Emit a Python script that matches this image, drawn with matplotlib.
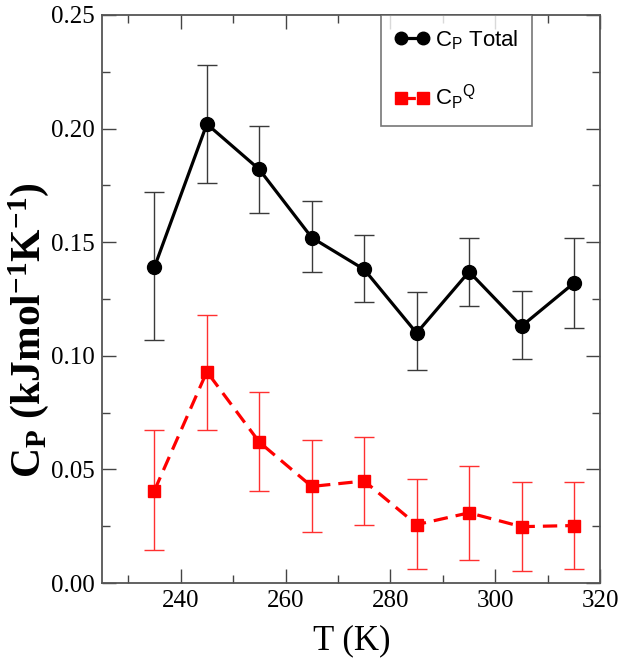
import matplotlib
matplotlib.use("Agg")
import matplotlib.pyplot as plt
from matplotlib.ticker import MultipleLocator, FormatStrFormatter

# === Data ===
temps = [235, 245, 255, 265, 275, 285, 295, 305, 315]

cp_total = [0.139, 0.202, 0.182, 0.152, 0.138, 0.110, 0.137, 0.113, 0.132]
cp_total_hi = [0.172, 0.228, 0.201, 0.168, 0.153, 0.128, 0.152, 0.1285, 0.152]
cp_total_lo = [0.107, 0.176, 0.163, 0.137, 0.1235, 0.0937, 0.1218, 0.0984, 0.1124]

cp_q = [0.0407, 0.093, 0.062, 0.0425, 0.0449, 0.0257, 0.0309, 0.0248, 0.0253]
cp_q_hi = [0.0675, 0.118, 0.084, 0.063, 0.0644, 0.0457, 0.0513, 0.0445, 0.0445]
cp_q_lo = [0.0144, 0.0675, 0.0407, 0.0226, 0.0257, 0.0062, 0.0103, 0.0053, 0.0063]

x_ticks = [240, 260, 280, 300, 320]

plt.rcParams["font.family"] = ["Liberation Serif", "DejaVu Serif"]
plt.rcParams["mathtext.default"] = "regular"

fig = plt.figure(figsize=(6.2, 6.66), dpi=100)
ax = fig.add_axes([0.1645, 0.1246, 0.8035, 0.853])

# error bars as (distance below, distance above)
err_total = [[c - l for c, l in zip(cp_total, cp_total_lo)],
             [h - c for c, h in zip(cp_total, cp_total_hi)]]
err_q = [[c - l for c, l in zip(cp_q, cp_q_lo)],
         [h - c for c, h in zip(cp_q, cp_q_hi)]]

ax.errorbar(temps, cp_total, yerr=err_total, fmt="none", ecolor="#3a3a3a",
            elinewidth=1.0, capsize=7.5, capthick=1.0, zorder=2)
ax.errorbar(temps, cp_q, yerr=err_q, fmt="none", ecolor="#ff3030",
            elinewidth=1.0, capsize=7.5, capthick=1.0, zorder=2)

ax.plot(temps, cp_total, color="black", lw=2.3, marker="o", ms=10,
        label=r"C$_P$ Total", zorder=3)
ax.plot(temps, cp_q, color="red", lw=2.3, ls=(0, (4.5, 2.5)), marker="s",
        ms=9, label=r"C$_P$$^Q$", zorder=3)

ax.set_xlim(225, 320)
ax.set_ylim(0, 0.25)
ax.set_xticks(x_ticks)
ax.xaxis.set_minor_locator(MultipleLocator(10))
ax.yaxis.set_major_locator(MultipleLocator(0.05))
ax.yaxis.set_minor_locator(MultipleLocator(0.025))
ax.yaxis.set_major_formatter(FormatStrFormatter("%.2f"))

ax.tick_params(which="both", direction="in", top=True, right=True,
               color="#444444", width=1.0)
ax.tick_params(which="major", length=10, labelsize=18, pad=5)
ax.tick_params(which="minor", length=6)
for sp in ax.spines.values():
    sp.set_color("#555555")
    sp.set_linewidth(1.3)

leg = ax.legend(loc="upper left", bbox_to_anchor=(0.56, 1.0),
                borderaxespad=0, fancybox=False, numpoints=2, markerscale=0.9,
                handlelength=1.6, handletextpad=0.25, labelspacing=1.4,
                borderpad=0.6, prop={"family": "Liberation Sans", "size": 16})
leg.get_frame().set_edgecolor("#555555")
leg.get_frame().set_linewidth(1.2)

fig.text(352 / 620, 1 - 641 / 666, "T (K)", ha="center", va="center", fontsize=25)
fig.text(29 / 620, 1 - 330 / 666, r"C$_P$ (kJmol$^{-1}$K$^{-1}$)",
         rotation=90, ha="center", va="center", fontsize=30, fontweight="bold")

fig.savefig("out.png", dpi=100)
